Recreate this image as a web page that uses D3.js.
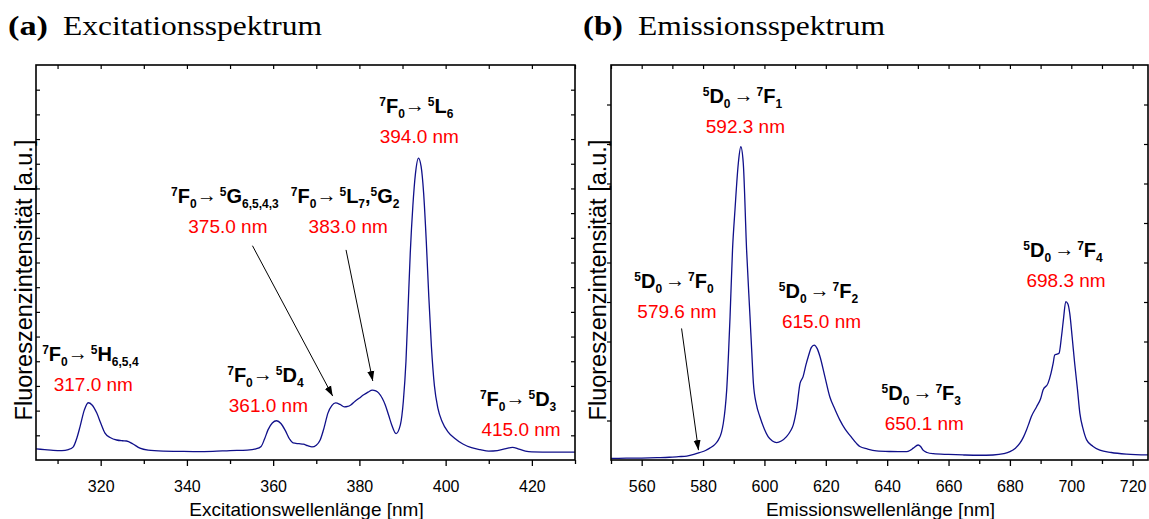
<!DOCTYPE html>
<html><head><meta charset="utf-8">
<script src="https://cdn.jsdelivr.net/npm/d3@7"></script>
<style>body{margin:0;background:#fff} svg{display:block}</style>
</head><body>
<svg id="c" width="1149" height="519"></svg>
<script>
// ---------- data: (a) excitation spectrum ----------
const excWavelength = [305,307,309,311,312.5,313.6,314.5,315.2,316.2,317.1,318,319.1,320,321,322.3,323.7,325,326,327.5,329.1,331,334.5,338,342,346,350,354,356,357.2,358,358.8,359.8,360.8,361.8,362.8,363.8,364.6,366,367,368,369,370,370.9,371.8,372.7,373.6,374.5,375.5,376.5,377.3,378,379,380,381,382,383,383.8,384.5,385.3,386,386.8,387.5,388.5,389.5,390.2,390.8,391.3,391.8,392.4,393.0,393.7,394.3,394.9,395.5,396.1,396.7,397.4,398.2,399.2,400.5,402,404,406,408,410,412,414,415.5,417,418.5,420,425,430];
const excIntensity  = [0.45,0.42,0.39,0.38,0.42,0.52,0.9,1.34,2.02,2.32,2.23,1.9,1.5,1.09,0.9,0.81,0.78,0.77,0.65,0.48,0.4,0.36,0.35,0.34,0.35,0.38,0.4,0.45,0.55,0.85,1.22,1.5,1.59,1.48,1.2,0.85,0.69,0.66,0.64,0.58,0.53,0.6,0.81,1.3,1.9,2.2,2.31,2.25,2.15,2.17,2.23,2.38,2.51,2.64,2.75,2.83,2.8,2.71,2.5,2.23,1.8,1.42,1.07,1.42,2.4,4.0,6.2,8.4,10.3,11.6,12.23,11.9,10.8,8.9,6.6,4.6,3.0,2.1,1.55,1.15,0.89,0.65,0.5,0.42,0.36,0.38,0.46,0.51,0.44,0.36,0.33,0.32,0.32];
// ---------- data: (b) emission spectrum ----------
const emiWavelength = [550,555,560,565,569,572,574.7,577,579,580.8,582.2,583.8,585,586,586.6,587.2,587.7,588.3,588.8,589.6,590.4,591.5,592.3,593.1,594.2,595.3,595.9,596.4,597.4,598.5,600,601.2,602.6,604,605.5,607.2,608.4,609.4,610.5,611.6,612.6,613.5,614.3,615.3,616.2,617.2,618.1,619.7,621.3,623,624.6,626.3,628,630,631.1,633.5,636.5,641,646.3,647.6,648.5,650.1,650.9,651.7,653,655,660,665,670,674.5,678,680,681.8,683.2,684.4,685.4,686.3,687,688.7,690,690.8,692.4,693.4,694.1,694.6,695.4,696,696.8,697.5,698.2,698.9,699.5,700.3,701.1,702,702.8,703.8,705,707,709.3,713,718,725];
const emiIntensity  = [0.04,0.045,0.05,0.06,0.07,0.085,0.1,0.14,0.19,0.24,0.3,0.39,0.51,0.7,0.93,1.3,1.77,2.7,3.63,5.32,6.33,7.52,7.93,7.52,5.3,3.63,2.7,1.95,1.4,1.1,0.78,0.59,0.48,0.44,0.48,0.59,0.72,0.89,1.3,1.94,2.11,2.4,2.62,2.85,2.91,2.82,2.62,2.11,1.6,1.28,1.01,0.78,0.61,0.42,0.34,0.28,0.23,0.215,0.21,0.25,0.3,0.38,0.34,0.25,0.19,0.16,0.14,0.127,0.12,0.127,0.16,0.21,0.3,0.42,0.58,0.76,0.95,1.1,1.35,1.55,1.77,1.94,2.2,2.45,2.66,2.68,2.7,3.12,3.6,4.01,3.95,3.71,3.1,2.45,1.8,1.18,0.8,0.51,0.35,0.25,0.19,0.15,0.13];
// ---------- tick labels ----------
const excTickLabels = [320,340,360,380,400,420];
const excMinorTicks = [310,330,350,370,390,410,430];
const emiTickLabels = [560,580,600,620,640,660,680,700,720];
const emiMinorTicks = [550,570,590,610,630,650,670,690,710];
// ---------- annotations (data coordinates) ----------
const excPeakLabels = [
  {nm:318.3, val:2.80, from:["7","F","0"], to:[["5","H","6,5,4"]], text:"317.0 nm"},
  {nm:358.9, val:1.96, from:["7","F","0"], to:[["5","D","4"]], text:"361.0 nm"},
  {nm:349.5, val:9.20, from:["7","F","0"], to:[["5","G","6,5,4,3"]], text:"375.0 nm"},
  {nm:377.4, val:9.20, from:["7","F","0"], to:[["5","L","7"],["5","G","2"]], text:"383.0 nm"},
  {nm:393.9, val:12.84, from:["7","F","0"], to:[["5","L","6"]], text:"394.0 nm"},
  {nm:417.5, val:0.97, from:["7","F","0"], to:[["5","D","3"]], text:"415.0 nm"}
];
const emiPeakLabels = [
  {nm:593.8, val:8.27, from:["5","D","0"], to:[["7","F","1"]], text:"592.3 nm"},
  {nm:571.5, val:3.60, from:["5","D","0"], to:[["7","F","0"]], text:"579.6 nm"},
  {nm:618.6, val:3.34, from:["5","D","0"], to:[["7","F","2"]], text:"615.0 nm"},
  {nm:652.1, val:0.76, from:["5","D","0"], to:[["7","F","3"]], text:"650.1 nm"},
  {nm:698.3, val:4.39, from:["5","D","0"], to:[["7","F","4"]], text:"698.3 nm"}
];
const excArrows = [
  {x1:355.2, y1:8.68, x2:373.8, y2:2.59},
  {x1:376.9, y1:8.51, x2:383.1, y2:3.20}
];
const emiArrows = [
  {x1:573.0, y1:3.33, x2:578.5, y2:0.25}
];

const svg = d3.select("#c");
const SANS = "'Liberation Sans', Arial, Helvetica, sans-serif";
const SERIF = "'Liberation Serif', 'Times New Roman', serif";

svg.append("defs").append("marker")
  .attr("id","ah").attr("viewBox","0 0 10 10").attr("refX",10).attr("refY",5)
  .attr("markerWidth",10).attr("markerHeight",10).attr("markerUnits","userSpaceOnUse")
  .attr("orient","auto")
  .append("path").attr("d","M0,1.5 L10,5 L0,8.5 Z").attr("fill","#000");

function drawPanel(cfg) {
  const g = svg.append("g");
  const x = d3.scaleLinear().domain(cfg.xDomain).range([cfg.left, cfg.right]);
  const y = d3.scaleLinear().domain(cfg.yDomain).range([cfg.bottom, cfg.top]);

  // title
  g.append("text").attr("x", cfg.titleX).attr("y", 35)
    .attr("font-family", SERIF).attr("font-size", 28).attr("font-weight","bold")
    .attr("textLength", 40).attr("lengthAdjust","spacingAndGlyphs").text(cfg.tag);
  g.append("text").attr("x", cfg.titleX + 55).attr("y", 35)
    .attr("font-family", SERIF).attr("font-size", 28)
    .attr("textLength", cfg.titleLen).attr("lengthAdjust","spacingAndGlyphs").text(cfg.title);

  // curve
  const line = d3.line().x(d => x(d[0])).y(d => y(d[1])).curve(d3.curveMonotoneX);
  const pts = cfg.xs.map((v,i) => [v, cfg.ys[i]]);
  g.append("path").attr("d", line(pts)).attr("fill","none")
    .attr("stroke","#10108a").attr("stroke-width",1.3).attr("stroke-linejoin","round");

  // bottom axis (major, labelled)
  const bAx = g.append("g").attr("transform",`translate(0,${cfg.bottom})`)
    .call(d3.axisBottom(x).tickValues(cfg.major).tickSizeInner(6).tickSizeOuter(0).tickFormat(d3.format("d")));
  bAx.select(".domain").remove();
  bAx.selectAll("line").attr("stroke","#000").attr("stroke-width",1.3);
  bAx.selectAll("text").attr("y", 32).attr("dy", 0)
    .attr("font-family", SANS).attr("font-size", 16).attr("fill","#000");
  // bottom minor
  const bMin = g.append("g").attr("transform",`translate(0,${cfg.bottom})`)
    .call(d3.axisBottom(x).tickValues(cfg.minor).tickSizeInner(4).tickSizeOuter(0).tickFormat(""));
  bMin.select(".domain").remove();
  bMin.selectAll("line").attr("stroke","#000").attr("stroke-width",1.3);
  // top ticks (inward)
  const tAx = g.append("g").attr("transform",`translate(0,${cfg.top})`)
    .call(d3.axisTop(x).tickValues(cfg.major.concat(cfg.minor)).tickSizeInner(-4).tickSizeOuter(0).tickFormat(""));
  tAx.select(".domain").remove();
  tAx.selectAll("line").attr("stroke","#000").attr("stroke-width",1.2);
  // left ticks
  const yt = d3.range(cfg.yDomain[0]+1, cfg.yDomain[1]);
  const lAx = g.append("g").attr("transform",`translate(${cfg.left},0)`)
    .call(d3.axisLeft(y).tickValues(yt).tickSizeInner(cfg.leftOut ? 4 : -4).tickSizeOuter(0).tickFormat(""));
  lAx.select(".domain").remove();
  lAx.selectAll("line").attr("stroke","#000").attr("stroke-width",1.2);
  const rAx = g.append("g").attr("transform",`translate(${cfg.right},0)`)
    .call(d3.axisRight(y).tickValues(yt).tickSizeInner(-4).tickSizeOuter(0).tickFormat(""));
  rAx.select(".domain").remove();
  rAx.selectAll("line").attr("stroke","#000").attr("stroke-width",1.2);

  // frame
  g.append("rect").attr("x",cfg.left).attr("y",cfg.top)
    .attr("width",cfg.right-cfg.left).attr("height",cfg.bottom-cfg.top)
    .attr("fill","none").attr("stroke","#000").attr("stroke-width",1.6);

  // axis titles
  g.append("text").attr("x", (cfg.left+cfg.right)/2 + 1).attr("y", 516)
    .attr("text-anchor","middle").attr("font-family",SANS).attr("font-size",19)
    .text(cfg.xTitle);
  g.append("text").attr("transform",`translate(${cfg.yTitleX},280) rotate(-90)`)
    .attr("text-anchor","middle").attr("font-family",SANS).attr("font-size",23.5)
    .text("Fluoreszenzintensität [a.u.]");

  // arrows
  cfg.arrows.forEach(a => {
    g.append("line").attr("x1",x(a.x1)).attr("y1",y(a.y1)).attr("x2",x(a.x2)).attr("y2",y(a.y2))
      .attr("stroke","#000").attr("stroke-width",1).attr("marker-end","url(#ah)");
  });

  // peak labels
  cfg.labels.forEach(L => {
    const cx = x(L.nm), by = y(L.val);
    g.append("text").attr("x",cx).attr("y",by).attr("text-anchor","middle")
      .attr("font-family",SANS).attr("font-size",19).attr("fill","#ff0000").text(L.text);
    const t = g.append("text").attr("x",cx - 3).attr("y",by - 30).attr("text-anchor","middle")
      .attr("font-family",SANS).attr("font-weight","bold").attr("fill","#000");
    let cur = 0;
    function add(str, size, shift, weight, dx) {
      const s = t.append("tspan").attr("font-size",size).attr("dy", shift - cur).text(str);
      if (weight) s.attr("font-weight", weight);
      if (dx) s.attr("dx", dx);
      cur = shift;
    }
    function term(p, dx) {
      add(p[0], 12, -7, null, dx);
      add(p[1], 20, 0);
      add(p[2], 12, 5);
    }
    term(L.from, 0);
    add("\u2192", 20, -1, "normal", cfg.arrowGap);
    L.to.forEach((p, i) => {
      if (i > 0) add(",", 20, 0);
      term(p, i === 0 ? 3 : 0);
    });
  });
}

drawPanel({
  left:36, right:575, top:65, bottom:460,
  xDomain:[305,430], yDomain:[0,16],
  xs:excWavelength, ys:excIntensity,
  major:excTickLabels, minor:excMinorTicks,
  tag:"(a)", title:"Excitationsspektrum", titleX:8, titleLen:259,
  xTitle:"Excitationswellenlänge [nm]", yTitleX:32, leftOut:false,
  labels:excPeakLabels, arrows:excArrows, arrowGap:0
});
drawPanel({
  left:611, right:1148, top:65, bottom:460,
  xDomain:[550,725], yDomain:[0,10],
  xs:emiWavelength, ys:emiIntensity,
  major:emiTickLabels, minor:emiMinorTicks,
  tag:"(b)", title:"Emissionsspektrum", titleX:583, titleLen:247,
  xTitle:"Emissionswellenlänge [nm]", yTitleX:606, leftOut:true,
  labels:emiPeakLabels, arrows:emiArrows, arrowGap:3
});
</script>
</body></html>
